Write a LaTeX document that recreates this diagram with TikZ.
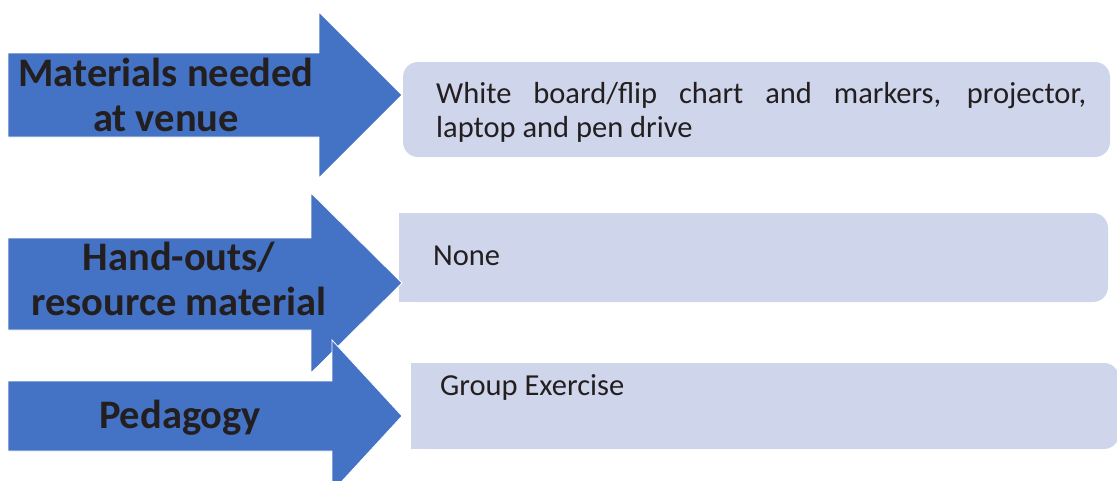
\documentclass[tikz,border=0pt]{standalone}
\usepackage{fontspec}
\setmainfont{Carlito}
\definecolor{arrowblue}{HTML}{4472C4}
\definecolor{boxfill}{HTML}{CFD5EA}
\definecolor{ink}{HTML}{231F20}
\tikzset{
  arrowshape/.style={fill=arrowblue, draw=white, line width=0.8pt, line join=miter},
  boxshape/.style={fill=boxfill},
  headtext/.style={text=ink, font=\fontsize{40.5}{45}\selectfont\bfseries, align=center, anchor=base, inner sep=0pt},
  bodytext/.style={text=ink, font=\fontsize{30.5}{34}\selectfont, anchor=base west, inner sep=0pt}
}
\begin{document}
\begin{tikzpicture}[x=1pt,y=-1pt]
  \clip (0,0) rectangle (1117,480);

  % content boxes
  \fill[boxshape, rounded corners=15] (403,62) rectangle (1110,157);
  \fill[boxshape, rounded corners=15] (399,213) rectangle (1108,302);
  \fill[boxshape] (399,213) rectangle (700,302);
  \fill[boxshape, rounded corners=15] (411,363) rectangle (1119,449);
  \fill[boxshape] (411,363) rectangle (700,449);

  % block arrows
  \draw[arrowshape] (8,53) -- (319,53) -- (319,12) -- (402,95) -- (319,178) -- (319,137) -- (8,137) -- cycle;
  \draw[arrowshape] (8,238) -- (311,238) -- (311,193) -- (402,283) -- (311,373) -- (311,330) -- (8,330) -- cycle;
  \draw[arrowshape] (8,381) -- (332,381) -- (332,340) -- (402,416) -- (332,492) -- (332,451) -- (8,451) -- cycle;

  % arrow labels (base anchor sits on the last line)
  \node[headtext] (lbl1) at (166,131) {Materials needed\\at venue};
  \node[headtext] (lbl2) at (179,315) {Hand-outs/\\resource material};
  \node[headtext] (lbl3) at (180,428) {Pedagogy};

  % box texts
  \node[bodytext, text width=650pt, align=justify] (txt1) at (436,103)
    {White board/flip chart and markers, projector,\linebreak laptop and pen drive};
  \node[bodytext] (txt2) at (433,265) {None};
  \node[bodytext] (txt3) at (440,395) {Group Exercise};
\end{tikzpicture}
\end{document}
